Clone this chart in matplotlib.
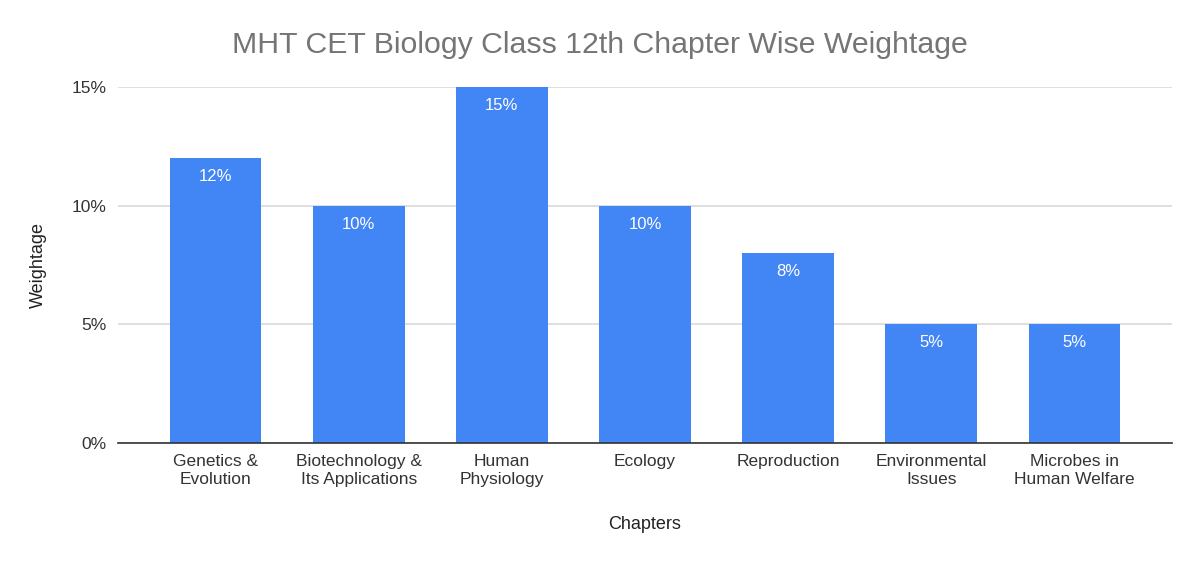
import matplotlib.pyplot as plt
import numpy as np

plt.rcParams['font.family'] = ['Liberation Sans', 'DejaVu Sans']

capitulos = ['Genetics &\nEvolution', 'Biotechnology &\nIts Applications', 'Human\nPhysiology',
             'Ecology', 'Reproduction', 'Environmental\nIssues', 'Microbes in\nHuman Welfare']
pesos = [12, 10, 15, 10, 8, 5, 5]
ticks_y = [0, 5, 10, 15]

fig = plt.figure(figsize=(12, 5.62), dpi=100)
ax = fig.add_axes([0.098, 0.212, 0.879, 0.633])

x = np.arange(len(capitulos))
barras = ax.bar(x, pesos, width=0.64, color='#4285f4', zorder=3)

# rotulos dentro do topo das barras
for b in barras:
    h = b.get_height()
    ax.annotate(f'{h:g}%', xy=(b.get_x() + b.get_width() / 2, h),
                xytext=(0, -8), textcoords='offset points',
                ha='center', va='top', color='white', fontsize=12)

ax.set_xlim(-0.685, len(capitulos) - 1 + 0.685)
ax.set_ylim(0, 15)
ax.set_yticks(ticks_y)
ax.set_yticklabels([f'{t}%' for t in ticks_y], fontsize=12.5, color='#333333')
ax.set_xticks(x)
ax.set_xticklabels(capitulos, fontsize=12.5, color='#333333', linespacing=1.25)
ax.tick_params(length=0, pad=8)
ax.tick_params(axis='y', pad=8)

ax.grid(axis='y', color='#d9d9d9', linewidth=1.2, zorder=0)
for s in ['top', 'right', 'left']:
    ax.spines[s].set_visible(False)
ax.spines['bottom'].set_color('#333333')
ax.spines['bottom'].set_linewidth(1.2)
ax.spines['bottom'].set_zorder(4)

ax.set_xlabel('Chapters', fontsize=13, color='#222222', labelpad=21)
ax.set_ylabel('Weightage', fontsize=13, color='#222222', labelpad=18)
fig.suptitle('MHT CET Biology Class 12th Chapter Wise Weightage', fontsize=21.8,
             color='#757575', x=0.5, y=0.945)

fig.savefig('out.png', dpi=100)
